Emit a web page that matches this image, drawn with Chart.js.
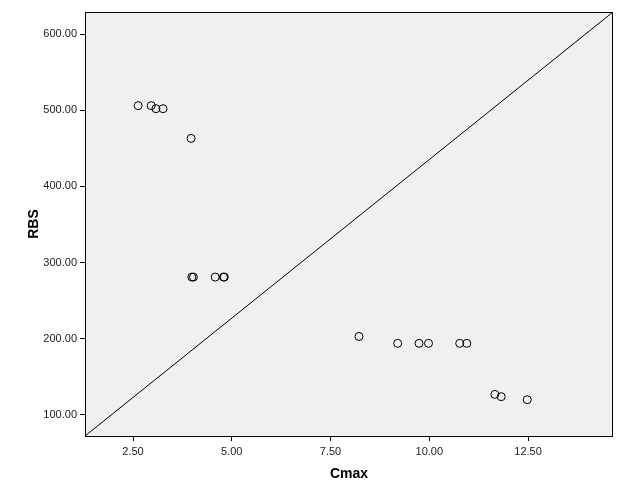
<!DOCTYPE html>
<html>
<head>
<meta charset="utf-8">
<script src="https://cdn.jsdelivr.net/npm/chart.js@4"></script>
<style>
  body { margin: 0; background: #fff; }
  canvas { display: block; }
</style>
</head>
<body>
<canvas id="chart" width="629" height="504"></canvas>
<script>
// values
const cmax = [2.63, 2.96, 3.08, 3.26, 3.97, 3.99, 4.03, 4.58, 4.79, 4.81,
              8.22, 9.20, 9.74, 9.98, 10.77, 10.95, 11.66, 11.82, 12.48];
const rbs = [506, 506, 502, 502, 463, 281, 281, 281, 281, 281,
             203, 194, 194, 194, 194, 194, 127, 124, 120];

const xTicks = [2.5, 5, 7.5, 10, 12.5];
const yTicks = [100, 200, 300, 400, 500, 600];
const xRange = [1.285, 14.65];
const yRange = [72.4, 628.9];

const points = cmax.map((x, i) => ({ x: x, y: rbs[i] }));

// grey plot background and black frame, like the SPSS output
const plotFrame = {
    id: 'plotFrame',
    beforeDatasetsDraw(chart) {
        const { ctx, chartArea: a } = chart;
        ctx.save();
        ctx.fillStyle = '#f0f0f0';
        ctx.fillRect(a.left, a.top, a.right - a.left, a.bottom - a.top);
        ctx.restore();
    },
    afterDatasetsDraw(chart) {
        const { ctx, chartArea: a } = chart;
        ctx.save();
        ctx.strokeStyle = '#000';
        ctx.lineWidth = 1;
        ctx.strokeRect(a.left + 0.5, a.top + 0.5, a.right - a.left - 1, a.bottom - a.top);
        ctx.restore();
    }
};

const tickFont = { family: 'Liberation Sans, Arial, sans-serif', size: 11 };
const titleFont = { family: 'Liberation Sans, Arial, sans-serif', size: 14, weight: 'bold' };

new Chart(document.getElementById('chart'), {
    data: {
        datasets: [
            {
                type: 'scatter',
                data: points,
                pointStyle: 'circle',
                pointRadius: 4,
                pointBorderWidth: 1,
                pointBorderColor: '#000',
                pointBackgroundColor: 'rgba(0,0,0,0)'
            },
            {
                type: 'line',
                data: [{ x: xRange[0], y: yRange[0] }, { x: xRange[1], y: yRange[1] }],
                borderColor: '#000',
                borderWidth: 1,
                pointRadius: 0,
                fill: false
            }
        ]
    },
    options: {
        responsive: false,
        animation: false,
        devicePixelRatio: 1,
        layout: { padding: { left: 0, top: 12, right: 16, bottom: 0 } },
        plugins: { legend: { display: false }, tooltip: { enabled: false } },
        scales: {
            x: {
                type: 'linear',
                min: xRange[0],
                max: xRange[1],
                afterBuildTicks: s => { s.ticks = xTicks.map(v => ({ value: v })); },
                afterFit: s => { s.height = 68; },
                border: { display: false },
                grid: { drawOnChartArea: false, color: '#000', tickLength: 5 },
                ticks: { color: '#222', font: tickFont, padding: 4, maxRotation: 0,
                         callback: v => v.toFixed(2) },
                title: { display: true, text: 'Cmax', color: '#000', font: titleFont,
                         padding: { top: 0, bottom: 21 } }
            },
            y: {
                type: 'linear',
                min: yRange[0],
                max: yRange[1],
                afterBuildTicks: s => { s.ticks = yTicks.map(v => ({ value: v })); },
                afterFit: s => { s.width = 85; },
                border: { display: false },
                grid: { drawOnChartArea: false, color: '#000', tickLength: 5 },
                ticks: { color: '#222', font: tickFont, padding: 3,
                         callback: v => v.toFixed(2) },
                title: { display: true, text: 'RBS', color: '#000', font: titleFont,
                         padding: { top: 26, bottom: 0 } }
            }
        }
    },
    plugins: [plotFrame]
});
</script>
</body>
</html>
